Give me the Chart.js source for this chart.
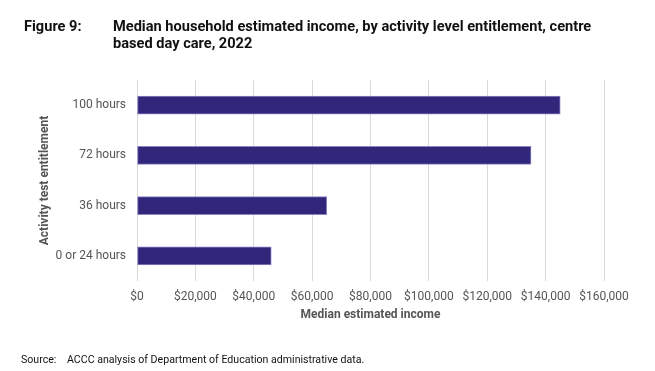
<!DOCTYPE html>
<html><head><meta charset="utf-8">
<script src="https://cdn.jsdelivr.net/npm/chart.js@4/dist/chart.umd.min.js"></script>
<style>
html,body{margin:0;padding:0;background:#fff;width:655px;height:371px;overflow:hidden;font-family:Roboto,sans-serif;}
#wrap{position:absolute;left:0;top:0;width:655px;height:371px;}
.t{position:absolute;font-weight:bold;font-size:14.6px;color:#111;line-height:16.5px;white-space:nowrap;}
.s{position:absolute;font-size:10.6px;color:#111;white-space:nowrap;}
</style></head>
<body>
<div id="wrap"><canvas id="c" width="655" height="371"></canvas></div>
<div class="t" style="left:24px;top:18px;">Figure 9:</div>
<div class="t" style="left:113px;top:18px;">Median household estimated income, by activity level entitlement, centre<br>based day care, 2022</div>
<div class="s" style="left:21px;top:353px;">Source:</div>
<div class="s" style="left:67px;top:353px;">ACCC analysis of Department of Education administrative data.</div>
<script>
const categories = ["100 hours", "72 hours", "36 hours", "0 or 24 hours"];
const incomeValues = [145000, 135000, 65000, 46000];
const xTickMax = 160000;
const xTickStep = 20000;

new Chart(document.getElementById('c'), {
  type: 'bar',
  data: {
    labels: categories,
    datasets: [{
      data: incomeValues,
      backgroundColor: '#30277a',
      borderColor: '#8c84c6',
      borderWidth: 1,
      borderSkipped: false,
      barThickness: 18
    }]
  },
  options: {
    indexAxis: 'y',
    responsive: false,
    animation: false,
    layout: { padding: { left: 34, right: 51, top: 80, bottom: 49 } },
    plugins: { legend: { display: false }, tooltip: { enabled: false } },
    scales: {
      x: {
        min: 0, max: xTickMax,
        ticks: {
          stepSize: xTickStep,
          padding: 9,
          color: '#555',
          font: { family: 'Roboto', size: 12 },
          callback: v => '$' + v.toLocaleString('en-US')
        },
        grid: { color: '#d9d9d9', drawTicks: false, lineWidth: 1 },
        border: { display: false },
        title: { display: true, text: 'Median estimated income', color: '#555',
                 font: { family: 'Roboto', size: 12, weight: 'bold' }, padding: 0 },
        afterFit: s => { s.height = 41; }
      },
      y: {
        ticks: { padding: 11, color: '#555', font: { family: 'Roboto', size: 12 } },
        grid: { display: false, drawTicks: false },
        border: { display: false },
        title: { display: true, text: 'Activity test entitlement', color: '#555',
                 font: { family: 'Roboto', size: 12, weight: 'bold' }, padding: { top: 4, bottom: 4 } },
        afterFit: s => { s.width = 103; }
      }
    }
  }
});
</script>
</body></html>
